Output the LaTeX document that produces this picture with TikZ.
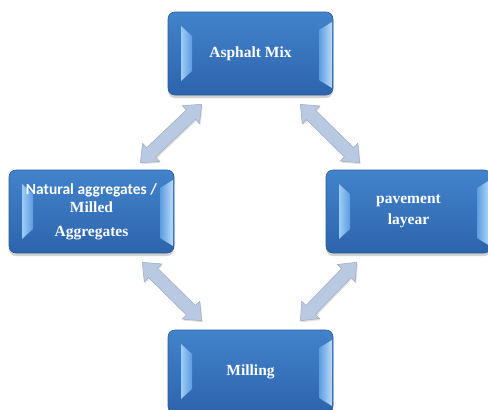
\documentclass[tikz,border=0pt]{standalone}
\usepackage{fontspec}
\setmainfont{Liberation Serif}
\newfontfamily\calibrifont{Carlito}
\usetikzlibrary{calc,shadows,positioning}
\definecolor{CardTop}{HTML}{4283CC}
\definecolor{CardBottom}{HTML}{2D64AC}
\definecolor{CardEdge}{HTML}{2A5B98}
\definecolor{FacetLight}{HTML}{9CCDF6}
\definecolor{FacetMid}{HTML}{5C9CE0}
\definecolor{LinkFill}{HTML}{B9C9E1}
\definecolor{LinkEdge}{HTML}{9DABBF}
% block arrow with a head at both ends
\newcommand{\linkarrow}[2]{%
  \coordinate (ha) at ($(#1)!15pt!(#2)$);
  \coordinate (hb) at ($(#2)!15pt!(#1)$);
  \draw[link] (#1) -- ($(ha)!12.5pt!90:(#2)$) -- ($(ha)!6.5pt!90:(#2)$)
    -- ($(hb)!6.5pt!-90:(#1)$) -- ($(hb)!12.5pt!-90:(#1)$) -- (#2)
    -- ($(hb)!12.5pt!90:(#1)$) -- ($(hb)!6.5pt!90:(#1)$)
    -- ($(ha)!6.5pt!-90:(#2)$) -- ($(ha)!12.5pt!-90:(#2)$) -- cycle;}

\begin{document}
\begin{tikzpicture}[x=1pt, y=-1pt,
  card/.style={draw=CardEdge, line width=0.6pt, rounded corners=7pt,
    minimum width=165pt, minimum height=83pt,
    top color=CardTop, bottom color=CardBottom,
    text=white, align=center, font=\bfseries\fontsize{15.5}{18}\selectfont,
    drop shadow={shadow xshift=0pt, shadow yshift=-3pt, opacity=0.25, fill=black!70},
    path picture={
      \coordinate (pnw) at (path picture bounding box.north west);
      \coordinate (pne) at (path picture bounding box.north east);
      \shade[sharp corners, left color=FacetLight, right color=FacetMid]
        ($(pnw)+(13,14)$) -- ($(pnw)+(24,24)$) -- ($(pnw)+(24,59)$) -- ($(pnw)+(13,69)$) -- cycle;
      \shade[sharp corners, left color=FacetMid, right color=FacetLight!70!white]
        ($(pne)+(-14,18)$) -- ($(pne)+(-1,10)$) -- ($(pne)+(-1,76)$) -- ($(pne)+(-14,68)$) -- cycle;
    }},
  link/.style={fill=LinkFill, draw=LinkEdge, line width=0.5pt, line join=miter,
    drop shadow={shadow xshift=1pt, shadow yshift=-1.5pt, opacity=0.2, fill=black!60}}]
  \useasboundingbox (0,0) rectangle (488,410);
  % the four stages
  \node[card] (mix) at (250.5,53.5) {Asphalt Mix};
  \node[card] (agg) at (91.5,211.5) {\calibrifont\bfseries Natural aggregates /\\ Milled\\[6pt] Aggregates};
  \node[card] (lay) at (408.5,211.5) {pavement\\[3pt] layear};
  \node[card] (mill) at (250.5,371.5) {Milling};
  % arrow ends
  \coordinate (mixL) at ($(mix.south west)+(34,9)$);
  \coordinate (aggT) at ($(agg.north east)+(-34,-7)$);
  \coordinate (mixR) at ($(mix.south east)+(-33,9)$);
  \coordinate (layT) at ($(lay.north west)+(34,-7)$);
  \coordinate (aggB) at ($(agg.south east)+(-32,9)$);
  \coordinate (millL) at ($(mill.north west)+(34,-9)$);
  \coordinate (layB) at ($(lay.south west)+(31,9)$);
  \coordinate (millR) at ($(mill.north east)+(-33,-9)$);
  % the cycle
  \linkarrow{mixL}{aggT}
  \linkarrow{mixR}{layT}
  \linkarrow{aggB}{millL}
  \linkarrow{layB}{millR}
\end{tikzpicture}
\end{document}
